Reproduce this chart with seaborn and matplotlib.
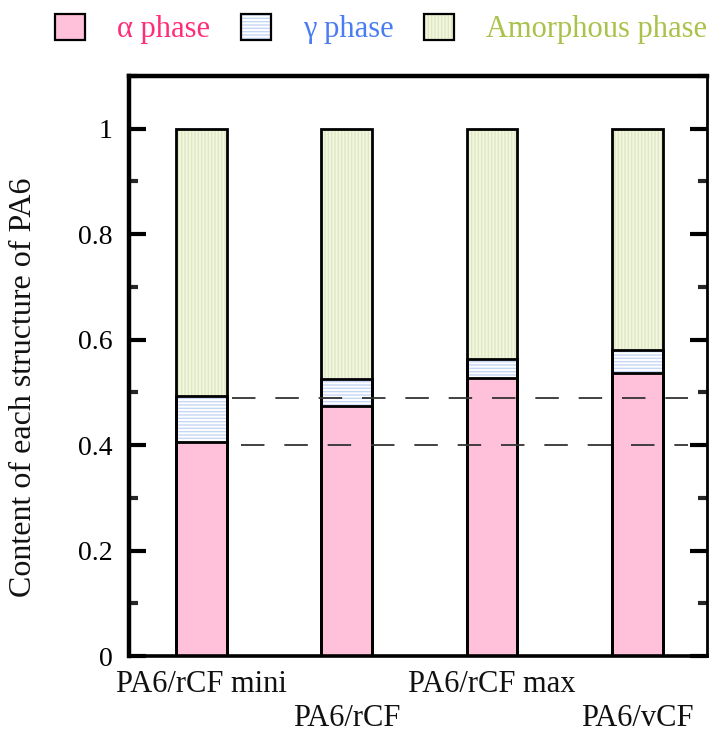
import matplotlib
matplotlib.use("Agg")
import matplotlib.pyplot as plt
from matplotlib.patches import Patch
from matplotlib.ticker import MultipleLocator, FixedLocator, FuncFormatter
import seaborn as sns
import pandas as pd

# Phase fractions of PA6 in each composite
samples = ["PA6/rCF mini", "PA6/rCF", "PA6/rCF max", "PA6/vCF"]
alpha_phase = [0.405, 0.474, 0.527, 0.536]
gamma_phase = [0.089, 0.052, 0.037, 0.045]
amorphous_phase = [0.506, 0.474, 0.436, 0.419]
reference_levels = [0.49, 0.40]
legend_labels = ["\u03b1 phase", "\u03b3 phase", "Amorphous phase"]

sns.set_theme(style="white")
plt.rcParams["font.family"] = ["Liberation Serif", "DejaVu Serif"]
plt.rcParams["hatch.linewidth"] = 1.0

df = pd.DataFrame({
    "sample": samples,
    "alpha": alpha_phase,
    "gamma": gamma_phase,
    "amorphous": amorphous_phase,
})
df["alpha_gamma"] = df["alpha"] + df["gamma"]
df["total"] = df["alpha_gamma"] + df["amorphous"]

pink = "#ffc0da"
blue_stripe = "#c6d6f7"
green_face = "#f3f6e2"
green_stripe = "#dde8bf"

fig = plt.figure(figsize=(7.2, 7.38), dpi=100)
ax = fig.add_axes([129 / 720, 1 - 656 / 738, (707 - 129) / 720, (656 - 76) / 738])

bar_w = 0.35
layers = [
    ("total", green_face, green_stripe, "|||||"),
    ("alpha_gamma", "white", blue_stripe, "-----"),
    ("alpha", pink, pink, None),
]
# Stacked bars drawn as overlapping cumulative heights, fill first
for col, face, stripe, hatch in layers:
    sns.barplot(data=df, x="sample", y=col, order=samples, width=bar_w,
                color=face, saturation=1, errorbar=None, edgecolor=stripe,
                linewidth=0, hatch=hatch, ax=ax)
# Black outlines of each segment
for col, _, _, _ in layers:
    sns.barplot(data=df, x="sample", y=col, order=samples, width=bar_w,
                fill=False, color="black", saturation=1, errorbar=None,
                linewidth=2.0, ax=ax)

# Dashed guide lines at the first sample's phase boundaries
ax.hlines(reference_levels[0], 0.21, 3.35, colors="#333333",
          linestyles=(0, (13, 11)), linewidth=1.3, zorder=5)
ax.hlines(reference_levels[1], 0.27, 3.35, colors="#333333",
          linestyles=(0, (13, 11)), linewidth=1.3, zorder=5)

ax.set_xlim(-0.5, 3.48)
ax.set_ylim(0, 1.1)
ax.set_xlabel("")
ax.set_xticks(range(len(samples)))
ax.set_xticklabels([])
ax.tick_params(axis="x", length=0)

ax.yaxis.set_major_locator(FixedLocator([0, 0.2, 0.4, 0.6, 0.8, 1.0]))
ax.yaxis.set_minor_locator(MultipleLocator(0.1))
ax.yaxis.set_major_formatter(FuncFormatter(lambda v, p: f"{v:g}"))
ax.tick_params(axis="y", which="major", direction="in", length=12, width=3.0,
               left=True, right=True, labelsize=20, pad=12, colors="black")
ax.tick_params(axis="y", which="minor", direction="in", length=6.5, width=3.0,
               left=True, right=True)

for side, lw in [("left", 3.2), ("top", 3.2), ("bottom", 2.6), ("right", 2.0)]:
    ax.spines[side].set_visible(True)
    ax.spines[side].set_linewidth(lw)
    ax.spines[side].set_color("black")

ax.set_ylabel("Content of each structure of PA6", fontsize=23, color="#111111")
ax.yaxis.set_label_coords(-0.158, 0.463)

# Staggered category labels
xt = ax.get_xaxis_transform()
for i, name in enumerate(samples):
    y = -0.050 if i % 2 == 0 else -0.1086
    ax.text(i, y, name, transform=xt, ha="center", va="center", fontsize=22,
            color="#111111")

handles = [
    (Patch(facecolor=pink, edgecolor=pink, linewidth=0),
     Patch(fill=False, edgecolor="black", linewidth=1.6)),
    (Patch(facecolor="white", edgecolor=blue_stripe, hatch="-----", linewidth=0),
     Patch(fill=False, edgecolor="black", linewidth=1.6)),
    (Patch(facecolor=green_face, edgecolor=green_stripe, hatch="|||||", linewidth=0),
     Patch(fill=False, edgecolor="black", linewidth=1.6)),
]
leg = fig.legend(handles, legend_labels, loc="center left",
                 bbox_to_anchor=(55 / 720, 1 - 29 / 738), ncol=3, frameon=False,
                 fontsize=22, handlelength=0.98, handleheight=0.92,
                 handletextpad=1.05, columnspacing=1.0, borderpad=0,
                 borderaxespad=0)
for txt, c in zip(leg.get_texts(), ["#ff2d78", "#4a7df2", "#a9c24a"]):
    txt.set_color(c)

fig.savefig("out.png", dpi=100)
